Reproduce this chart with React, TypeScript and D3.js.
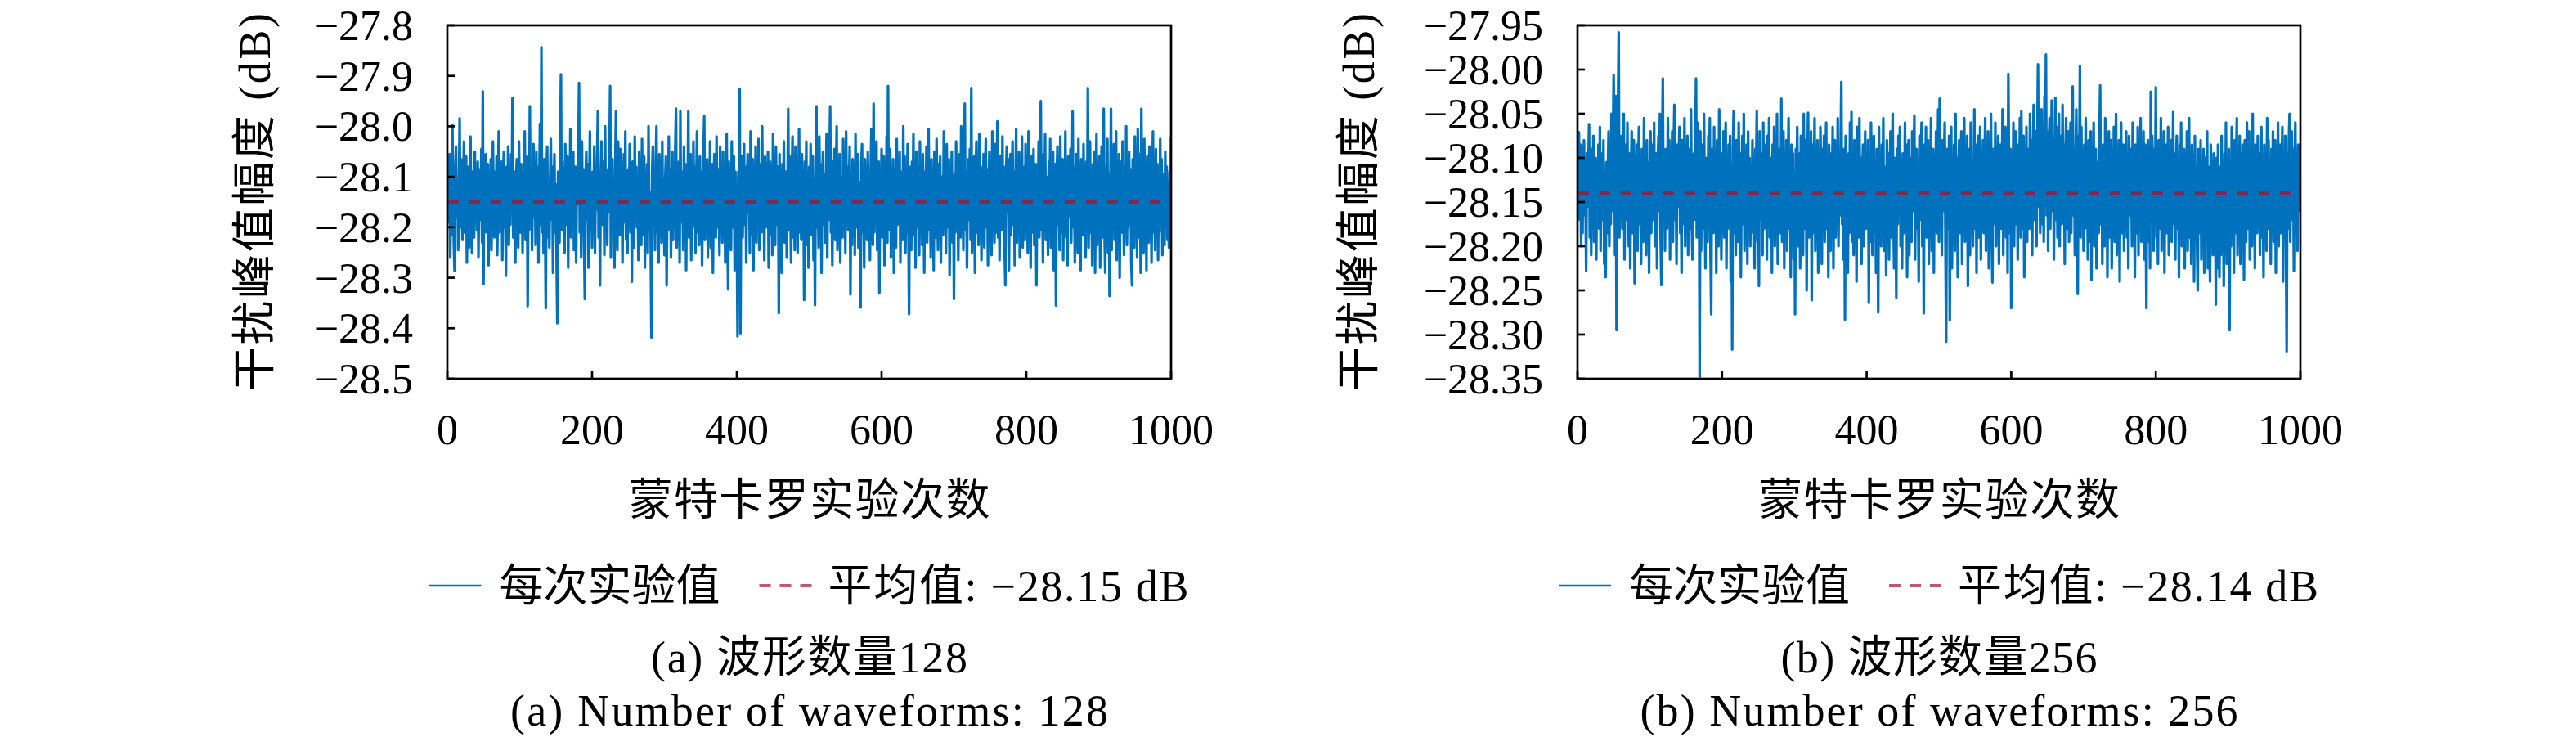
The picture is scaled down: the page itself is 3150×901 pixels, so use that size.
import * as d3 from "d3";

// Monte Carlo results, 1000 runs per case
const MEAN_128 = -28.15;
const MEAN_256 = -28.14;
const xTicks = [0, 200, 400, 600, 800, 1000];
const yTicks128 = [-27.8, -27.9, -28.0, -28.1, -28.2, -28.3, -28.4, -28.5];
const yTicks256 = [-27.95, -28.0, -28.05, -28.1, -28.15, -28.2, -28.25, -28.3, -28.35];

// deviation of each run from the mean, in 0.001 dB (128 waveforms)
const dev128 = [
  77, -40, 95, -110, 30, -65, 153, 20, -85, -136, 60, 110, -30, 45, -95, 10, 166, -50, 85, -20,
  -75, 40, 120, -60, -15, 90, -120, 35, 70, -90, 5, 130, -45, -100, 60, 25, -70, 100, -25, 50,
  -55, 80, -110, 15, 65, -35, 105, -80, 219, -162, 40, -20, 95, -60, 10, 75, -125, 55, -5, 85,
  -95, 30, 120, -40, -70, 60, -15, 90, -105, 20, 140, -60, 45, -30, 80, -115, 5, 100, -50, 25,
  -146, 70, -20, 110, -85, 35, -45, 95, -10, 206, -70, 15, 60, -120, 40, 85, -35, -90, 120, 0,
  -60, 75, 30, -100, 55, -25, 140, -75, 20, 90, -206, 35, -55, 190, -40, 65, -95, 10, 115, -30,
  50, -85, 100, -15, 70, -120, 25, 155, -45, 307, -60, 40, -100, 85, -20, -210, 60, 110, -70, 15,
  -90, 45, 125, -35, 70, -140, 20, 95, -60, 35, -115, -240, 60, 10, -80, 130, 253, -55, 80, -25,
  40, -100, 115, -45, 25, 90, -130, 55, -15, 145, -70, 30, -40, 100, -95, 15, 70, -120, 50, -5,
  85, 236, -60, 30, -110, 120, -25, 65, -80, -192, 45, 100, -35, 75, -130, 10, 140, -55, 20, -90,
  60, -40, 110, -100, 35, -15, 90, 180, -70, 25, -165, 55, 120, -45, 5, 80, -105, 150, -30, 40,
  -85, 65, -20, 100, 230, -110, 15, 85, -55, 40, -130, 70, 180, -30, -95, 120, 20, -65, 105, -10,
  55, -120, 30, 95, -40, 140, -75, 10, -100, 65, -25, 115, -60, 45, -158, 80, 25, -90, 130, -35,
  70, -50, 20, -115, 100, -20, 55, -85, 125, 5, -65, 90, -130, 35, -10, 75, -100, 150, -45, 20,
  -70, -268, 60, 110, -40, 25, -95, 85, 150, -60, 35, -120, 95, -15, 50, -80, 120, -35, 15, -105,
  40, 90, -165, 20, -55, 130, -20, 65, -110, 30, 100, -75, 15, -45, 110, 185, -90, 50, -30, 80,
  -120, 180, -40, 60, 5, -95, 110, -25, 75, -135, 45, -10, 180, -70, 30, 95, -115, 55, -50, 120,
  -20, 70, -100, 35, 140, -60, 15, -85, 90, -30, 60, -125, 25, 105, 170, -75, 40, -15, 85, -110,
  50, -45, 120, -90, 20, 75, -140, 35, 95, -20, -70, 130, -50, 10, 65, -105, 110, -35, 45, -80,
  100, -25, 55, -120, 15, 135, -60, -173, 80, -10, 40, -95, 120, -50, 25, 90, -135, 60, -30, -40,
  -266, 60, -110, 224, -260, 35, 90, -70, 15, 115, -45, 70, -120, 30, 95, -20, 55, -100, 140, -65,
  20, 85, -135, 45, -15, 110, -80, 60, -40, 125, -95, 10, 75, -60, 150, -25, 35, -115, 90, -50,
  65, -10, 100, -130, 40, 80, -65, 20, -105, 135, -30, 55, -85, 110, 5, -45, 70, -220, 95, -20,
  40, -140, 75, -35, 120, -80, 25, 60, -110, 15, 185, -55, 90, -15, -120, 50, 130, -70, 30, -95,
  110, -40, 65, -100, 25, 145, -60, 35, -75, 95, -20, 55, -194, 80, -5, 120, -85, 40, -130, 70,
  -30, 115, -65, 20, 90, -115, 45, -204, 60, 190, -50, 10, -90, 130, -25, 75, -140, 35, 100, -45,
  55, -80, 20, 135, -110, 65, -35, 90, 190, -60, 15, -125, 80, -20, 105, -75, 40, 150, -95, 25,
  -45, 95, -120, 50, 10, -70, 125, -30, 65, -100, 140, -15, 70, -55, 30, 110, -183, 45, -85, 85,
  -20, 60, -105, 135, -50, 20, 95, -90, 40, -35, -209, 75, 115, -60, 25, -130, 85, -10, 55, -75,
  100, -40, 30, -115, 70, 145, -25, -85, 195, -60, 50, -10, 120, -95, 35, 80, -180, 60, -30, 105,
  -70, 15, 90, -125, 50, -35, 130, -80, 230, -55, 20, 105, -110, 40, -15, 85, -140, 65, 10, -90,
  125, -45, 75, -20, 100, -120, 35, 60, -75, 150, -30, 90, -100, 15, -60, 115, -40, -222, 70, 25,
  -95, 80, -15, 135, -65, 45, -130, 100, 5, -50, 70, -105, 120, -25, 40, -85, 95, 20, -140, 60,
  -35, 110, -80, 30, 145, -55, 15, -110, 85, -20, 60, -135, 100, 40, -70, 125, -10, -95, 75, -45,
  90, -120, 50, 20, -65, 140, -30, 65, -100, 115, -50, 10, 85, -145, 35, -15, 100, -80, 55, -192,
  45, -60, 120, -25, 80, -115, 30, 95, -70, 150, -40, 15, -95, 110, 195, -55, 60, -130, 25, 85,
  -35, 105, -75, 226, -100, 40, -20, 90, -140, 55, 120, -60, 10, -85, 135, -30, 70, -115, 45, -10,
  95, -90, 30, 125, -50, 65, -125, 20, 100, -40, 75, -105, 140, -15, 50, -80, 115, -60, 25, 160,
  -70, 40, -115, 90, 10, -55, 130, -30, 70, -95, -165, 55, 110, -20, 85, -135, 35, 95, -65, 15,
  120, -45, 60, -125, 25, 145, -80, 35, -20, 100, -110, 50, -35, 130, -90, 70, 5, -75, 115, -40,
  65, -100, 140, -25, 45, -130, 90, 15, -60, 105, -85, 30, 75, -165, 55, -15, 120, -70, 35, 200,
  -55, 25, -120, 95, -30, 135, -75, 50, 10, -105, 80, -40, 125, -90, 60, -20, 100, -135, 40, 75,
  -205, 55, 110, -45, 20, -95, 130, -60, 35, 85, -115, 65, -10, 140, -70, 25, -125, 90, 45, -30,
  105, -80, 15, 180, -50, 70, -120, 40, 95, -25, -100, 125, -40, 60, -135, 85, 5, -65, 115, -15,
  50, -110, 80, -45, 226, -90, 30, 120, -60, 15, -125, 75, -20, 100, -140, 45, 135, -85, 60, -35,
  90, -130, 25, 110, -70, 40, 185, -55, -140, 70, -30, 125, -100, 55, -186, 20, 185, -95, 65, -45,
  115, -75, 10, 140, -115, 60, -25, 95, -150, 35, 80, -60, 120, -10, -105, 70, -40, 150, -85, 30,
  -50, 100, -20, 65, -120, -165, 85, 20, -90, 130, -35, 50, -110, 145, 0, -70, 95, -140, 185, -25,
  60, -100, 125, -45, 20, -135, 90, 35, -80, 110, -15, 70, -120, 50, 140, -60, 15, -95, 105, -35,
  75, -115, 40, -60, 125, -30, 85, -105, 55, 10, -85, 100, -45, 70, -75, 35, -90, 60, -80, 130,
];

// deviation of each run from the mean, in 0.001 dB (256 waveforms)
const dev256 = [
  40, 69, -30, 55, -60, 20, -45, 35, 60, -25, 10, -88, 45, -15, 30, 78, -50, 25, -70, 50,
  -20, 65, -55, 15, 40, -75, 30, -10, 55, -40, 75, -65, 20, 45, -30, 60, -80, 10, -95, 35,
  -45, 25, 70, -60, 15, -35, 90, -20, 50, 134, 60, -70, 110, -155, 40, 95, 182, -50, 30, -25,
  65, -40, 20, 90, -75, 35, 55, -30, 80, -15, -60, 45, -85, 25, 70, -45, 10, 60, -102, 40,
  -20, 55, -65, 30, 75, -35, 5, -80, 50, 20, -55, 85, -10, 40, -70, 60, -25, 35, -90, 15,
  70, -45, 25, 55, -30, 80, -60, 10, 45, -85, 35, 65, -20, 90, -50, -104, 40, 130, -35, 20,
  -65, 50, 15, -40, 85, -25, 60, -75, 30, -10, 70, -55, 45, 100, -30, 20, -80, 55, -15, 40,
  75, -45, 10, -90, 60, 25, -35, 85, -60, 40, -20, 65, -70, 30, 50, -40, 95, -25, -75, 20,
  45, -30, 60, 130, -50, 80, -20, 35, -208, 70, -65, 25, 55, -40, 90, -15, -85, 40, 20, -55,
  65, -25, 85, -70, -137, 50, 15, -45, 75, -30, 40, -90, 60, 10, -60, 95, -35, 25, -75, 45,
  -15, 70, -50, 35, 80, -85, 20, -40, 55, -25, 65, -100, 30, -177, 50, 93, -45, 15, -70, 60,
  25, -55, 80, -20, 45, -95, 10, 65, -35, 90, -65, 30, -10, 55, -80, 70, -30, 40, -60, 20,
  -45, 60, -20, 35, -85, 50, 15, 93, -55, 25, -105, 70, -30, 45, 5, -70, 80, -40, 55, -15,
  30, -75, 65, -25, 85, -50, 10, 40, -90, 55, -35, 75, -60, 20, -15, 90, -80, 35, 50, -45,
  -30, 107, -55, 25, 70, -85, 40, -10, 60, -65, 15, 85, -40, 30, -95, 55, -20, 45, -75, 20,
  -137, 50, -30, 75, -60, 20, 45, -85, 65, -15, 35, -70, 90, -40, 10, 60, -110, 25, 91, -50,
  40, -20, 70, -121, 55, -45, 25, 85, -65, 30, -10, 60, -90, 45, -35, 75, 15, -80, 50, -25,
  65, -55, 20, 80, -40, 35, -95, 55, 10, -65, 45, -20, 75, -85, 30, 60, -50, 15, -30, 85,
  -60, 40, -25, 55, 126, -35, 20, -75, 50, -143, 65, -10, 35, -90, 45, -45, 80, -20, 92, -55,
  30, -70, 60, -15, 45, -100, 75, 20, -50, 85, -35, 40, -80, 25, 55, -60, 10, 70, -40, 35,
  -25, 60, -124, 45, -55, 80, 15, -70, 35, 65, -45, 20, -90, 50, -15, -135, 75, -30, 40, -60,
  55, -20, 85, -65, 30, 10, -93, 60, -40, 45, -75, 25, 70, -50, 15, 90, -30, -85, 40, 20,
  -118, 50, -35, 65, -10, 75, -60, 30, -85, 45, 20, -45, 80, -25, 55, -95, 35, 60, -70, 15,
  40, -55, 70, -20, 30, 88, -75, 25, 50, -40, 10, -100, 65, -30, 45, 80, -60, 20, -136, 55,
  -35, 75, -50, 15, 60, -80, 40, -15, 85, -65, 25, 50, -90, 35, -25, 70, -45, 10, 95, -55,
  107, -30, 45, -70, 60, -20, 35, 80, -55, -168, 50, 20, -40, 65, -144, 30, 75, -85, 15, -25,
  55, -65, 90, -30, 40, -95, 25, 60, -45, 10, 70, -80, 35, -15, 85, -55, 45, -35, 65, -105,
  20, 50, -70, 80, -25, 35, -60, 15, 95, -40, 55, -90, 30, 65, -50, 5, 75, -75, 40, -20,
  60, -45, 25, 85, -65, 35, -10, 70, -85, 45, -30, 90, -55, -101, 50, 20, -35, 80, -60, 30,
  -15, 65, -80, 40, 55, -40, 15, 95, -70, 30, -25, 75, -50, 60, -90, 135, 25, -45, 50, -130,
  45, -20, 80, -60, 35, 70, -35, 20, -75, 55, -10, 85, -50, 93, -40, 30, 65, -95, 40, -25,
  75, -55, 50, 25, -40, 90, -20, 60, -70, 45, 100, -30, 35, 70, -60, 55, 146, -15, 80, -45,
  40, 95, -35, 65, -55, 110, 20, 157, -25, 70, -65, 50, 85, -40, 30, 105, -20, 60, -75, 45,
  108, -30, 75, -50, 40, 90, -60, 25, 65, -35, 100, -15, 55, -80, 45, 85, -40, 20, 70, -55,
  30, 80, -45, 60, 121, -25, 50, -70, 40, 95, -35, -114, 65, 20, 144, -50, 75, -20, 45, -65,
  55, -40, 85, -15, 30, -75, 60, 10, -55, 70, -98, 45, -30, 80, -60, 25, 50, -85, 35, 15,
  -45, 65, 122, -35, 40, -80, 55, 20, -60, 85, -25, 45, -95, 30, 70, -50, 15, 60, -85, 40,
  -20, 75, -55, 30, 90, -70, 45, -30, 60, -100, 25, 80, -45, 10, 55, -65, 35, -15, 70, -50,
  40, -85, 65, -25, 50, 15, -60, 80, -35, 30, -95, 55, 20, -45, 75, -70, 45, -10, 85, -55,
  25, -40, 70, -75, 55, -20, -130, 45, 60, -55, 30, -85, 115, -30, 65, 20, -65, 50, -15, 120,
  -50, 35, -80, 60, 15, -40, 85, -65, 40, -25, 70, -90, 30, 55, -45, 10, 75, -70, 25, -35,
  60, -55, 20, 92, -35, 45, -75, 30, 65, -40, 15, -95, 55, -20, 80, -60, 35, -10, 50, -85,
  45, -30, 70, -65, 20, 85, -50, 35, -80, 55, -15, 40, -100, 65, -25, 30, -60, -110, 50, 15,
  -45, 60, -75, 25, -30, 50, -90, 40, -55, 15, 70, -85, 30, -40, -100, 55, -20, 35, -70, 45,
  -60, 20, -126, 40, -85, 55, -45, -95, 30, -70, 65, -35, 15, -105, 45, -55, 80, -80, 25, -40,
  50, -155, 35, -60, 75, -25, 40, -90, 60, -45, 20, 85, -70, 30, -15, 65, -80, 45, -35, 55,
  -20, -98, 60, 25, -55, 80, -40, 35, 70, -75, 15, 50, -60, 90, -30, 40, -85, 55, 10, -45,
  65, -30, 45, -70, 30, 75, -50, 20, -95, 55, -15, 40, -65, 85, -40, 60, -25, 35, -80, 50,
  -35, 70, -55, 25, 60, -90, 40, -20, 80, -60, 30, 55, -45, 15, 75, -100, 35, -30, 65, -50,
  -179, 45, -40, 60, 90, -55, 25, 70, -30, 50, -88, 35, 80, -45, 20, -65, 55, -20, 40, 28,
];

const W = 3150;
const H = 901;
const TOP = 31;
const BOTTOM = 463;
const TICK = 9;
const AXIS_W = 2.7;
const BLUE = "#0072BD";
const RED = "#A2142F";
const SERIF = "'Liberation Serif', 'Noto Sans CJK SC', serif";

interface PanelSpec {
  id: string;
  left: number;
  right: number;
  titleX: number;
  mean: number;
  dev: number[];
  yTicks: number[];
  fmt: string;
  tag: string;
  count: number;
}

const panels: PanelSpec[] = [
  { id: "a", left: 547, right: 1432, titleX: 330, mean: MEAN_128, dev: dev128, yTicks: yTicks128, fmt: ".1f", tag: "a", count: 128 },
  { id: "b", left: 1929, right: 2813, titleX: 1680, mean: MEAN_256, dev: dev256, yTicks: yTicks256, fmt: ".2f", tag: "b", count: 256 },
];

function Panel({ p }: { p: PanelSpec }) {
  const x = d3.scaleLinear().domain([0, 1000]).range([p.left, p.right]);
  const [lo, hi] = d3.extent(p.yTicks) as [number, number];
  const y = d3.scaleLinear().domain([lo, hi]).range([BOTTOM, TOP]);
  const values = p.dev.map((d) => p.mean + d / 1000);
  const path =
    d3
      .line<number>()
      .x((_, i) => x(i + 1))
      .y((v) => y(v))(values) ?? "";
  const fmt = d3.format(p.fmt);
  const cx = (p.left + p.right) / 2;
  const midY = (TOP + BOTTOM) / 2;
  const clipId = `clip-${p.id}`;
  const meanLabel = `平均值: ${d3.format(".2f")(p.mean)} dB`;

  return (
    <g>
      <defs>
        <clipPath id={clipId}>
          <rect x={p.left} y={TOP} width={p.right - p.left} height={BOTTOM - TOP} />
        </clipPath>
      </defs>

      <g clipPath={`url(#${clipId})`}>
        <path d={path} fill="none" stroke={BLUE} strokeWidth={3.2} strokeLinejoin="round" />
        <line
          x1={x(1)}
          x2={x(1000)}
          y1={y(p.mean)}
          y2={y(p.mean)}
          stroke={RED}
          strokeOpacity={0.75}
          strokeWidth={4}
          strokeDasharray="13 13"
        />
      </g>

      {/* inward ticks, left and bottom only */}
      {p.yTicks.map((t) => (
        <line key={`yt${t}`} x1={p.left} x2={p.left + TICK} y1={y(t)} y2={y(t)} stroke="#000" strokeWidth={AXIS_W} />
      ))}
      {xTicks.map((t) => (
        <line key={`xt${t}`} x1={x(t)} x2={x(t)} y1={BOTTOM} y2={BOTTOM - TICK} stroke="#000" strokeWidth={AXIS_W} />
      ))}
      <rect
        x={p.left}
        y={TOP}
        width={p.right - p.left}
        height={BOTTOM - TOP}
        fill="none"
        stroke="#000"
        strokeWidth={AXIS_W}
      />

      <g fontFamily={SERIF} fontSize={52} fill="#000">
        {p.yTicks.map((t) => (
          <text key={`yl${t}`} x={p.left - 42} y={y(t) + 18} textAnchor="end">
            {fmt(t)}
          </text>
        ))}
        {xTicks.map((t) => (
          <text key={`xl${t}`} x={x(t)} y={543} textAnchor="middle">
            {t}
          </text>
        ))}
      </g>

      <g fontFamily={SERIF} fontSize={54} fill="#000">
        <text x={cx} y={630} textAnchor="middle" textLength={442} lengthAdjust="spacing">
          蒙特卡罗实验次数
        </text>
        <text
          transform={`translate(${p.titleX},${midY}) rotate(-90)`}
          textAnchor="middle"
          textLength={462}
          lengthAdjust="spacing"
        >
          干扰峰值幅度 (dB)
        </text>

        {/* legend */}
        <line x1={cx - 465} x2={cx - 401} y1={716} y2={716} stroke={BLUE} strokeWidth={2.7} />
        <text x={cx - 379} y={735}>
          每次实验值
        </text>
        <line
          x1={cx - 61}
          x2={cx + 4}
          y1={716}
          y2={716}
          stroke={RED}
          strokeOpacity={0.7}
          strokeWidth={4}
          strokeDasharray="14 11"
        />
        <text x={cx + 23} y={735} textLength={441} lengthAdjust="spacing">
          {meanLabel}
        </text>

        {/* captions */}
        <text x={cx} y={822} textAnchor="middle" textLength={387} lengthAdjust="spacing">
          {`(${p.tag}) 波形数量${p.count}`}
        </text>
        <text x={cx} y={887} textAnchor="middle" textLength={731} lengthAdjust="spacing">
          {`(${p.tag}) Number of waveforms: ${p.count}`}
        </text>
      </g>
    </g>
  );
}

export default function App() {
  return (
    <svg
      width={W}
      height={H}
      viewBox={`0 0 ${W} ${H}`}
      style={{ position: "absolute", left: 0, top: 0, background: "#fff" }}
    >
      <rect width={W} height={H} fill="#fff" />
      {panels.map((p) => (
        <Panel key={p.id} p={p} />
      ))}
    </svg>
  );
}
